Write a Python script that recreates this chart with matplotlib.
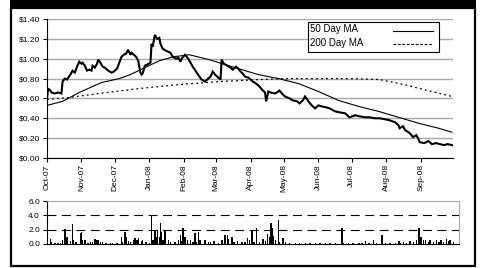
import matplotlib
matplotlib.use("Agg")
import matplotlib.pyplot as plt
import matplotlib.dates as mdates
from matplotlib.patches import Rectangle
from matplotlib.lines import Line2D
import pandas as pd

plt.rcParams['font.family'] = ['Liberation Sans', 'DejaVu Sans']

base = pd.Timestamp("2007-10-01")

# Price (day offset from 2007-10-01, $)
price_days = [0, 1, 3, 4, 7, 10, 13, 14, 16, 18, 21, 23, 25, 27, 29, 31, 32, 34, 36, 38, 40, 41, 43, 45, 46, 48,
              50, 52, 55, 58, 60, 63, 66, 67, 69, 71, 73, 75, 76, 78, 80, 82, 84, 85, 86, 88, 90, 93, 94, 95,
              97, 99, 101, 102, 104, 107, 111, 113, 116, 118, 120, 121, 124, 127, 129, 131, 134, 137, 139, 142,
              145, 147, 149, 151, 153, 156, 157, 159, 162, 165, 167, 170, 172, 174, 176, 178, 181, 182, 185, 188,
              191, 194, 196, 197, 199, 201, 205, 208, 209, 212, 214, 218, 221, 225, 227, 230, 232, 235, 238, 241,
              244, 247, 251, 254, 259, 263, 268, 271, 272, 277, 281, 286, 290, 295, 299, 304, 308, 313, 316, 317,
              320, 322, 325, 327, 329, 332, 334, 335, 339, 343, 346, 350, 353, 357, 360, 364]
price_vals = [0.60, 0.70, 0.68, 0.66, 0.65, 0.66, 0.65, 0.77, 0.80, 0.79, 0.84, 0.88, 0.86, 0.92, 0.97, 0.95, 0.96, 0.93, 0.88, 0.89, 0.88, 0.93, 0.91, 0.95, 0.99, 0.96,
              0.92, 0.91, 0.88, 0.86, 0.87, 0.90, 0.99, 1.02, 1.04, 1.05, 1.09, 1.04, 1.06, 1.04, 1.02, 0.98, 0.86, 0.84, 0.85, 0.93, 0.94, 0.96, 1.15, 1.12,
              1.24, 1.20, 1.21, 1.15, 1.10, 1.08, 1.06, 1.02, 1.00, 1.01, 0.97, 1.00, 1.04, 1.00, 0.96, 0.92, 0.87, 0.82, 0.79, 0.77,
              0.80, 0.82, 0.87, 0.84, 0.82, 0.79, 0.99, 0.95, 0.93, 0.91, 0.89, 0.92, 0.90, 0.87, 0.85, 0.82, 0.81, 0.80, 0.77, 0.75,
              0.72, 0.68, 0.66, 0.57, 0.67, 0.66, 0.65, 0.67, 0.68, 0.64, 0.62, 0.60, 0.58, 0.57, 0.55, 0.58, 0.62, 0.57, 0.53, 0.50,
              0.53, 0.52, 0.51, 0.50, 0.47, 0.46, 0.45, 0.42, 0.41, 0.43, 0.42, 0.41, 0.41, 0.40, 0.40, 0.39, 0.38, 0.36, 0.33, 0.30,
              0.32, 0.28, 0.26, 0.24, 0.21, 0.23, 0.19, 0.16, 0.15, 0.17, 0.14, 0.15, 0.14, 0.13, 0.14, 0.13]

# 50-day moving average
ma50_days = [0, 14, 29, 49, 65, 75, 86, 101, 114, 128, 146, 172, 190, 208, 226, 244, 262, 280, 298, 316, 334, 352, 364]
ma50_vals = [0.53, 0.57, 0.66, 0.76, 0.80, 0.84, 0.90, 0.98, 1.02, 1.04, 0.99, 0.90, 0.84, 0.80, 0.75, 0.67, 0.58, 0.52, 0.47, 0.41, 0.35, 0.30, 0.26]

# 200-day moving average
ma200_days = [0, 20, 47, 83, 101, 119, 155, 191, 218, 245, 272, 299, 317, 335, 357, 364]
ma200_vals = [0.59, 0.61, 0.65, 0.70, 0.72, 0.74, 0.77, 0.79, 0.80, 0.80, 0.80, 0.79, 0.75, 0.70, 0.64, 0.62]

# Volume (millions)
vol_days = [3, 4, 7, 10, 12, 14, 16, 17, 18, 21, 23, 24, 26, 30, 31, 32, 34, 37, 39, 41, 43, 44, 46, 48, 50, 53, 57, 59, 63,
            67, 68, 70, 71, 73, 75, 78, 79, 81, 82, 85, 86, 89, 92, 94, 95, 97, 98, 99, 101, 102, 103, 104, 106, 109, 111,
            115, 118, 120, 121, 122, 124, 126, 129, 131, 133, 134, 136, 137, 138, 142, 145, 147, 150, 154, 157, 160, 162,
            163, 166, 168, 171, 175, 178, 180, 182, 184, 186, 188, 191, 194, 196, 198, 200, 201, 202, 203, 205, 208, 209,
            212, 214, 218, 223, 227, 232, 236, 241, 245, 250, 254, 259, 265, 266, 271, 275, 280, 283, 286, 289, 293, 296,
            301, 304, 308, 313, 316, 317, 320, 323, 326, 329, 332, 334, 335, 336, 338, 340, 343, 344, 347, 350, 352, 354,
            356, 359, 361, 362, 365]
vol_vals = [0.7, 0.3, 0.2, 0.2, 0.2, 0.6, 2.1, 0.9, 1.0, 0.4, 2.8, 0.6, 0.3, 1.6, 1.7, 0.5, 0.6, 0.2, 0.3, 0.3, 0.7, 0.5, 0.6, 0.3, 0.3, 0.2, 0.2, 0.1, 0.2,
            1.0, 0.3, 1.7, 1.0, 0.4, 0.3, 0.6, 0.8, 0.5, 0.9, 0.4, 0.6, 0.3, 0.2, 3.9, 0.5, 1.8, 1.0, 2.0, 1.0, 2.9, 1.7, 0.6, 2.0, 0.6, 0.3,
            0.3, 0.5, 1.3, 0.4, 2.3, 1.0, 0.6, 0.5, 0.3, 1.6, 0.3, 1.7, 0.5, 0.6, 0.5, 0.3, 0.3, 0.4, 0.2, 0.5, 1.2, 1.2,
            0.7, 1.0, 0.3, 0.4, 0.3, 0.3, 0.8, 0.5, 1.8, 0.3, 2.3, 0.3, 0.7, 0.4, 1.4, 1.0, 2.9, 2.2, 1.1, 0.5, 3.4, 0.3,
            0.9, 0.3, 0.2, 0.1, 0.2, 0.2, 0.1, 0.2, 0.1, 0.2, 0.1, 0.1, 2.2, 0.2, 0.1, 0.1, 0.1, 0.2, 0.4, 0.1, 0.5, 0.2,
            1.2, 0.1, 0.2, 0.2, 0.4, 0.2, 0.3, 0.2, 0.4, 0.3, 0.5, 2.2, 0.8, 1.0, 0.5, 0.6, 0.3, 0.5, 0.3, 0.6, 0.3, 0.6,
            0.3, 0.7, 0.4, 0.5, 0.3]

price_ticks = [0.0, 0.2, 0.4, 0.6, 0.8, 1.0, 1.2, 1.4]
vol_ticks = [0.0, 2.0, 4.0, 6.0]
legend_labels = ["50 Day MA", "200 Day MA"]

def to_dates(days):
    return [base + pd.Timedelta(days=int(d)) for d in days]

W, H = 482, 268
fig = plt.figure(figsize=(W / 100, H / 100), dpi=100)

def fx(px):
    return px / W

def fy(py):
    return 1 - py / H

# Main price axes
ax = fig.add_axes([fx(47), fy(158), fx(453) - fx(47), fy(19) - fy(158)])
ax.plot(to_dates(price_days), price_vals, color='black', lw=1.5, solid_joinstyle='miter')
ax.plot(to_dates(ma50_days), ma50_vals, color='black', lw=0.8)
ma200_style = (0, (1.5, 2.5))
ax.plot(to_dates(ma200_days), ma200_vals, color='black', lw=0.9, ls=ma200_style)
ax.set_ylim(0, 1.4)
ax.set_xlim(base, base + pd.Timedelta(days=365))
ax.set_yticks(price_ticks)
ax.set_yticklabels(["$%.2f" % v for v in price_ticks], fontsize=6)
ax.yaxis.grid(True, color='#a8a8a8', lw=1.0)
ax.set_axisbelow(True)
ax.spines['top'].set_visible(False)
ax.spines['right'].set_visible(False)
ax.spines['left'].set_linewidth(0.8)
ax.spines['bottom'].set_linewidth(0.8)
ax.xaxis.set_major_locator(mdates.MonthLocator())
ax.xaxis.set_major_formatter(mdates.DateFormatter('%b-%y'))
ax.tick_params(axis='x', labelsize=6, rotation=90, length=3, width=0.8, pad=1.5)
ax.tick_params(axis='y', length=3, width=0.8, pad=2)

# Legend (text left, line sample right)
fig.add_artist(Rectangle((fx(308), fy(52)), fx(439) - fx(308), fy(22) - fy(52),
                         transform=fig.transFigure, facecolor='white', edgecolor='black', lw=0.8, zorder=5))
fig.text(fx(310), fy(29.5), legend_labels[0], fontsize=7, ha='left', va='center', zorder=6)
fig.text(fx(310), fy(42.5), legend_labels[1], fontsize=7, ha='left', va='center', zorder=6)
fig.add_artist(Line2D([fx(393), fx(433)], [fy(30.5), fy(30.5)], transform=fig.transFigure,
                      color='black', lw=0.8, zorder=6))
fig.add_artist(Line2D([fx(393), fx(433)], [fy(43.5), fy(43.5)], transform=fig.transFigure,
                      color='black', lw=0.8, ls=(0, (2.5, 1.5)), zorder=6))

# Volume axes
axv = fig.add_axes([fx(47), fy(244), fx(459) - fx(47), fy(201) - fy(244)])
axv.bar(to_dates(vol_days), vol_vals, width=1.3, color='black', lw=0)
axv.set_ylim(0, 6)
axv.set_xlim(base, base + pd.Timedelta(days=370))
axv.set_yticks(vol_ticks)
axv.set_yticklabels(["%.1f" % v for v in vol_ticks], fontsize=6)
for v in [2.0, 4.0]:
    axv.axhline(v, color='black', lw=0.8, ls=(0, (8, 5)), zorder=0)
axv.spines['top'].set_color('#a8a8a8')
axv.spines['right'].set_color('#a8a8a8')
axv.spines['left'].set_linewidth(0.8)
axv.spines['bottom'].set_linewidth(0.8)
axv.set_xticks([])
axv.tick_params(axis='y', length=3, width=0.8, pad=2)

# Outer frame
fig.add_artist(Rectangle((fx(11), fy(266)), fx(475) - fx(11), fy(8) - fy(266),
                         transform=fig.transFigure, fill=False, edgecolor='black', lw=1.6))
fig.add_artist(Rectangle((fx(10), fy(8)), fx(476) - fx(10), fy(0) - fy(8),
                         transform=fig.transFigure, facecolor='black', edgecolor='none'))

fig.savefig("out.png", dpi=100)
